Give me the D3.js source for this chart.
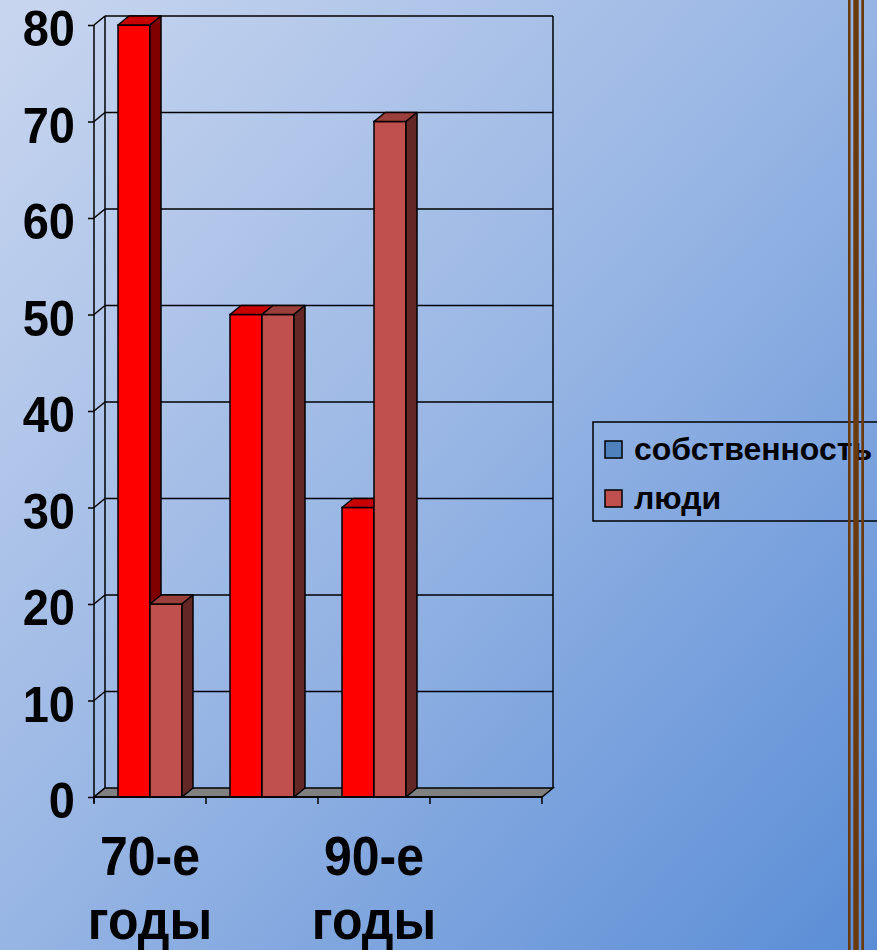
<!DOCTYPE html>
<html><head><meta charset="utf-8">
<script src="https://cdn.jsdelivr.net/npm/d3@7"></script>
<style>html,body{margin:0;padding:0;overflow:hidden;}svg{display:block;}</style>
</head><body>
<script>
const categories = ["70-е годы", "80-е годы", "90-е годы", ""];
const tickLabels = ["70-е годы", "", "90-е годы", ""];
const seriesNames = ["собственность", "люди"];
const sobstvennost = [80, 50, 30, null];
const lyudi = [20, 50, 70, null];
const yTicks = [0, 10, 20, 30, 40, 50, 60, 70, 80];

const W = 877, H = 950;
const svg = d3.select("body").append("svg").attr("width", W).attr("height", H);
const defs = svg.append("defs");
const grad = defs.append("linearGradient").attr("id", "bg").attr("x1", 0).attr("y1", 0).attr("x2", 1).attr("y2", 1);
grad.append("stop").attr("offset", 0).attr("stop-color", "#C9D6EF");
grad.append("stop").attr("offset", 0.5).attr("stop-color", "#97B5E4");
grad.append("stop").attr("offset", 1).attr("stop-color", "#5A8DD6");
svg.append("rect").attr("width", W).attr("height", H).attr("fill", "url(#bg)");

const DX = 11, DY = -9;
const x = d3.scaleBand().domain(categories).range([94, 542]);
const x1 = d3.scaleBand().domain(seriesNames).range([24, 88]);
const y = d3.scaleLinear().domain([0, 80]).range([797, 25]);
const y0 = y(0);
const left = x.range()[0], right = x.range()[1];

const g = svg.append("g");
g.selectAll("line.grid").data(yTicks.slice(1)).join("line")
  .attr("x1", left + DX).attr("x2", right + DX)
  .attr("y1", d => y(d) + DY).attr("y2", d => y(d) + DY)
  .attr("stroke", "#000").attr("stroke-width", 1.5);
g.selectAll("line.side").data(yTicks).join("line")
  .attr("x1", left).attr("x2", left + DX)
  .attr("y1", d => y(d)).attr("y2", d => y(d) + DY)
  .attr("stroke", "#000").attr("stroke-width", 1.5);
g.append("line").attr("x1", left + DX).attr("x2", left + DX).attr("y1", y(80) + DY).attr("y2", y0 + DY).attr("stroke", "#000").attr("stroke-width", 1.5);
g.append("line").attr("x1", right + DX).attr("x2", right + DX).attr("y1", y(80) + DY).attr("y2", y0 + DY).attr("stroke", "#000").attr("stroke-width", 1.5);
g.append("path")
  .attr("d", `M${left},${y0}L${right},${y0}L${right + DX},${y0 + DY}L${left + DX},${y0 + DY}Z`)
  .attr("fill", "#808080").attr("stroke", "#000").attr("stroke-width", 1.5);

const colors = [
  { front: "#FF0000", top: "#C80000", side: "#800000" },
  { front: "#C0504D", top: "#9B3F3C", side: "#632826" }
];
const data = [sobstvennost, lyudi];
categories.forEach((c, i) => {
  seriesNames.forEach((s, j) => {
    const v = data[j][i];
    if (v == null) return;
    const bx = x(c) + x1(s), bw = x1.bandwidth(), by = y(v);
    const col = colors[j];
    const bg = g.append("g");
    bg.append("rect").attr("x", bx).attr("y", by).attr("width", bw).attr("height", y0 - by)
      .attr("fill", col.front).attr("stroke", "#000").attr("stroke-width", 1.5);
    bg.append("path").attr("d", `M${bx},${by}L${bx + bw},${by}L${bx + bw + DX},${by + DY}L${bx + DX},${by + DY}Z`)
      .attr("fill", col.top).attr("stroke", "#000").attr("stroke-width", 1.5).attr("stroke-linejoin", "round");
    bg.append("path").attr("d", `M${bx + bw},${by}L${bx + bw + DX},${by + DY}L${bx + bw + DX},${y0 + DY}L${bx + bw},${y0}Z`)
      .attr("fill", col.side).attr("stroke", "#000").attr("stroke-width", 1.5).attr("stroke-linejoin", "round");
  });
});

const yAxis = g.append("g").attr("transform", `translate(${left},0)`)
  .call(d3.axisLeft(y).tickValues(yTicks).tickSize(6).tickSizeOuter(0).tickFormat(d3.format("d")));
yAxis.select(".domain").attr("stroke", "#000").attr("stroke-width", 1.5).attr("d", `M0,${y(80)}V${y0 + 6}`);
yAxis.selectAll(".tick line").attr("stroke", "#000").attr("stroke-width", 1.5);
yAxis.selectAll(".tick text").attr("x", -19).attr("dy", 0)
  .attr("font-family", "'Liberation Sans', Arial, sans-serif").attr("font-weight", "bold").attr("font-size", 47)
  .attr("fill", "#000").attr("dominant-baseline", "central")
  .attr("transform", "translate(0,3) scale(1,1.08)");

const xAxis = g.append("g").attr("transform", `translate(0,${y0})`);
xAxis.append("line").attr("x1", left).attr("x2", right).attr("y1", 0).attr("y2", 0).attr("stroke", "#000").attr("stroke-width", 1.5);
const bounds = categories.map(c => x(c)).concat([right]);
xAxis.selectAll("line.xt").data(bounds).join("line")
  .attr("x1", d => d).attr("x2", d => d).attr("y1", 0).attr("y2", 7)
  .attr("stroke", "#000").attr("stroke-width", 1.5);
const lab = xAxis.selectAll("text.xl").data(categories.filter((c, i) => tickLabels[i] !== "")).join("text")
  .attr("text-anchor", "middle")
  .attr("font-family", "'Liberation Sans', Arial, sans-serif").attr("font-weight", "bold").attr("font-size", 50)
  .attr("fill", "#000")
  .attr("transform", d => `translate(${x(d) + x.bandwidth() / 2},0) scale(1,1.1)`);
lab.each(function (d) {
  const parts = d.split(" ");
  const t = d3.select(this);
  t.append("tspan").attr("x", 0).attr("y", 71).text(parts[0]);
  t.append("tspan").attr("x", 0).attr("y", 129).text(parts[1]);
});

const lg = svg.append("g");
lg.append("rect").attr("x", 593).attr("y", 422).attr("width", 320).attr("height", 99)
  .attr("fill", "none").attr("stroke", "#000").attr("stroke-width", 1.5);
const legendColors = ["#4F81BD", "#C0504D"];
seriesNames.forEach((s, i) => {
  const ly = 450 + i * 49;
  lg.append("rect").attr("x", 605).attr("y", ly - 9).attr("width", 17).attr("height", 17)
    .attr("fill", legendColors[i]).attr("stroke", "#000").attr("stroke-width", 1.5);
  lg.append("text").attr("x", 634).attr("y", ly + 10).text(s)
    .attr("font-family", "'Liberation Sans', Arial, sans-serif").attr("font-weight", "bold").attr("font-size", 32)
    .attr("fill", "#000");
});

[[848, 2.6], [853.3, 5.4], [861.3, 2.7]].forEach(([lx, lw]) => {
  svg.append("rect").attr("x", lx).attr("y", 0).attr("width", lw).attr("height", H).attr("fill", "#6B3A0C");
});
</script>
</body></html>
